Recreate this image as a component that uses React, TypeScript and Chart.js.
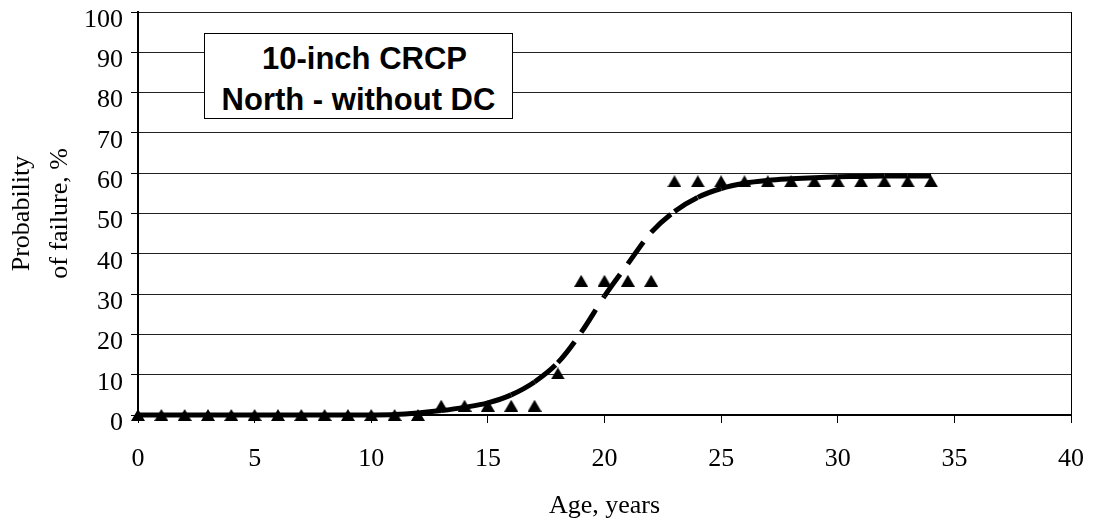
import React, { useEffect, useRef } from "react";
import { Chart, registerables } from "chart.js";

Chart.register(...registerables);

// ---- data ----
const ages = [0, 1, 2, 3, 4, 5, 6, 7, 8, 9, 10, 11, 12, 13, 14, 15, 16, 17, 18, 19, 20, 21, 22, 23, 24, 25, 26, 27, 28, 29, 30, 31, 32, 33, 34];
const observedFailure = [0, 0, 0, 0, 0, 0, 0, 0, 0, 0, 0, 0, 0, 2.3, 2.3, 2.3, 2.3, 2.3, 10.3, 33.3, 33.3, 33.3, 33.3, 58, 58, 58, 58, 58, 58, 58, 58, 58, 58, 58, 58];
const fittedFailure = [0, 0, 0, 0, 0, 0, 0, 0, 0, 0, 0, 0.1, 0.5, 1.1, 1.9, 3.0, 5.0, 8.2, 13.0, 20.5, 29.5, 37.5, 45.3, 50.5, 54.0, 56.2, 57.5, 58.2, 58.6, 58.9, 59.1, 59.2, 59.3, 59.3, 59.3];
const xTickValues = [0, 5, 10, 15, 20, 25, 30, 35, 40];
const yTickValues = [0, 10, 20, 30, 40, 50, 60, 70, 80, 90, 100];
const xTitle = "Age, years";
const yTitleLines = ["Probability", "of failure, %"];
const boxLines = ["10-inch CRCP", "North - without DC"];

const W = 1093;
const H = 527;
const PLOT = { left: 138, right: 1071, top: 12, bottom: 415 };
const SERIF = '"Liberation Serif", "Times New Roman", serif';

function makeTriangle(): HTMLCanvasElement {
  const c = document.createElement("canvas");
  c.width = 14;
  c.height = 12;
  const g = c.getContext("2d")!;
  g.fillStyle = "#000";
  g.beginPath();
  g.moveTo(7, 0);
  g.lineTo(14, 12);
  g.lineTo(0, 12);
  g.closePath();
  g.fill();
  return c;
}

export default function App() {
  const ref = useRef<HTMLCanvasElement | null>(null);

  useEffect(() => {
    if (!ref.current) return;
    const tri = makeTriangle();
    const chart = new Chart(ref.current, {
      type: "line",
      data: {
        datasets: [
          {
            label: "Fitted",
            data: ages.map((a, i) => ({ x: a, y: fittedFailure[i] })),
            borderColor: "#000",
            backgroundColor: "#000",
            borderWidth: 5,
            pointRadius: 0,
            tension: 0.35,
            fill: false,
            clip: false as any,
            borderDash: [27, 14],
            segment: {
              borderDashOffset: (c: any) => (c.p0DataIndex % 2 === 0 ? 0 : 0.0001),
            },
          } as any,
          {
            label: "Observed",
            data: ages.map((a, i) => ({ x: a, y: observedFailure[i] })),
            showLine: false,
            pointStyle: tri as any,
            pointRadius: 7,
            pointBackgroundColor: "#000",
            pointBorderColor: "#000",
            clip: false as any,
          } as any,
        ],
      },
      options: {
        responsive: false,
        animation: false,
        events: [],
        layout: { padding: { top: PLOT.top, right: W - PLOT.right, bottom: 0, left: 0 } },
        plugins: { legend: { display: false }, tooltip: { enabled: false } },
        scales: {
          x: {
            type: "linear",
            min: 0,
            max: 40,
            afterBuildTicks: (s: any) => {
              s.ticks = xTickValues.map((v) => ({ value: v }));
            },
            afterFit: (s: any) => {
              s.height = H - PLOT.bottom;
              s.paddingLeft = 0;
              s.paddingRight = 0;
            },
            grid: {
              color: (c: any) => (c.tick && c.tick.value === 40 ? "#000" : "rgba(0,0,0,0)"),
              tickColor: "#000",
              tickLength: 8,
              lineWidth: 1,
            },
            border: { color: "#000", width: 2 },
            ticks: {
              font: { family: SERIF, size: 26, lineHeight: 1.2 },
              color: "#000",
              padding: 21,
              maxRotation: 0,
              autoSkip: false,
            },
            title: {
              display: true,
              text: xTitle,
              font: { family: SERIF, size: 26, lineHeight: 1.2 },
              color: "#000",
              padding: { top: 0, bottom: 5 },
            },
          },
          y: {
            type: "linear",
            min: 0,
            max: 100,
            afterBuildTicks: (s: any) => {
              s.ticks = yTickValues.map((v) => ({ value: v }));
            },
            afterFit: (s: any) => {
              s.width = PLOT.left;
              s.paddingTop = 0;
              s.paddingBottom = 0;
            },
            grid: {
              color: "#222",
              tickColor: "#000",
              tickLength: 7,
              lineWidth: 1,
            },
            border: { color: "#000", width: 2 },
            ticks: {
              font: { family: SERIF, size: 26, lineHeight: 1.2 },
              color: "#000",
              padding: 8,
              labelOffset: 8,
              autoSkip: false,
            },
            title: {
              display: true,
              text: yTitleLines,
              font: { family: SERIF, size: 26, lineHeight: 38 / 26 },
              color: "#000",
              padding: { top: 3, bottom: 0 },
            },
          },
        },
      } as any,
    });
    return () => chart.destroy();
  }, []);

  return (
    <div style={{ position: "fixed", left: 0, top: 0, width: W, height: H, background: "#fff" }}>
      <canvas ref={ref} width={W} height={H} style={{ display: "block", width: W, height: H }} />
      <div
        style={{
          position: "absolute",
          left: 204,
          top: 33,
          width: 309,
          height: 86,
          boxSizing: "border-box",
          border: "1.5px solid #000",
          background: "#fff",
          fontFamily: '"Liberation Sans", Arial, sans-serif',
          fontWeight: 700,
          fontSize: 31,
          lineHeight: "41px",
          textAlign: "center",
          color: "#000",
          paddingTop: 4,
          overflow: "visible",
          whiteSpace: "nowrap",
        }}
      >
        {boxLines.map((l, i) => (
          <div key={l} style={{ paddingLeft: i === 0 ? 12 : 0 }}>
            {l}
          </div>
        ))}
      </div>
    </div>
  );
}
